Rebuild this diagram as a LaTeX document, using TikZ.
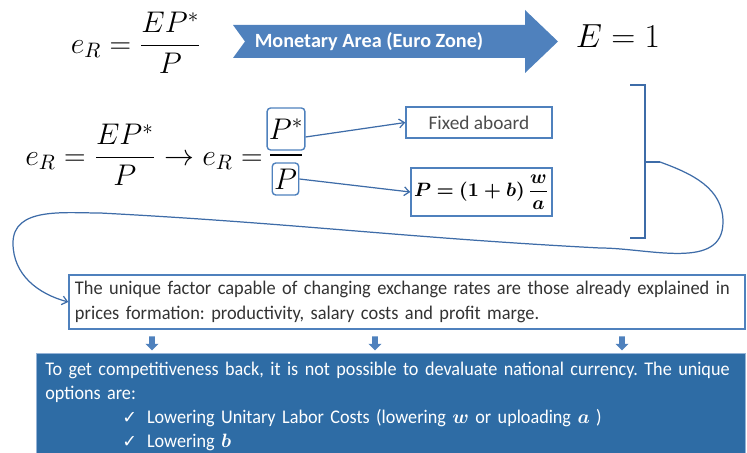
\RequirePackage{fix-cm}
\documentclass[tikz,border=0pt]{standalone}
\usepackage{amsmath, amssymb}
\usepackage{fontspec}
\usetikzlibrary{arrows.meta, positioning, shapes.arrows, calc}

\newfontfamily\calibri{Carlito}
\newfontfamily\calibrin{Carlito}[FakeStretch=0.95]
\newfontfamily\calibrio{Carlito}[FakeStretch=0.94]
\newfontfamily\checkfont{DejaVu Sans}
\definecolor{boxblue}{RGB}{79,129,189}
\definecolor{lineblue}{RGB}{62,108,168}
\definecolor{optblue}{RGB}{46,108,165}

\begin{document}
\frenchspacing
\begin{tikzpicture}[
    box/.style={draw=boxblue, line width=0.8pt, inner sep=0pt},
    mathbox/.style={draw=boxblue, rounded corners=2pt, inner sep=1pt, line width=0.8pt},
    link/.style={draw=lineblue, line width=0.7pt, -{Straight Barb[length=3pt,width=5pt]}},
    bracket/.style={draw=lineblue, line width=0.9pt},
    down/.style={single arrow, fill=boxblue, rotate=-90, minimum height=0.28cm,
                 inner sep=1.5pt, single arrow head extend=2pt},
    big/.style={font=\fontsize{17}{20}\selectfont}
]
    \useasboundingbox (0,0) rectangle (14.94,9.06);

    % Euro zone: E = 1
    \node[big] (er1) at (2.72,8.2) {$e_R = \dfrac{EP^*}{P}$};
    \fill[boxblue] (4.66,8.56) -- (10.5,8.56) -- (10.5,8.86) -- (11.16,8.23)
        -- (10.5,7.6) -- (10.5,7.9) -- (4.66,7.9) -- (4.9,8.23) -- cycle;
    \node[text=white, font=\calibri\bfseries\fontsize{11.5}{14}\selectfont] (euro) at (7.38,8.23) {Monetary Area (Euro Zone)};
    \node[font=\fontsize{19}{22}\selectfont] (eone) at (12.36,8.33) {$E = 1$};

    % second row
    \node[big] (er2) at (2.88,5.96) {$e_R = \dfrac{EP^*}{P} \to e_R =$};
    \node[big, mathbox, minimum width=0.68cm, minimum height=0.84cm] (pstar) at (5.72,6.48) {$P^*$};
    \node[big, mathbox, minimum width=0.5cm, minimum height=0.64cm] (pden) at (5.71,5.48) {$P$};
    \draw[line width=0.8pt] (5.4,5.96) -- (6.04,5.96);

    \node[box, minimum width=2.92cm, minimum height=0.62cm, text=black!70,
          font=\calibri\fontsize{11}{13}\selectfont] (fixed) at (9.58,6.61) {Fixed aboard};
    \node[box, minimum width=2.82cm, minimum height=0.96cm, font=\fontsize{11}{13}\selectfont] (pform) at (9.63,5.22)
        {$\boldsymbol{P} \boldsymbol{=} \boldsymbol{(1+b)}\,\dfrac{\boldsymbol{w}}{\boldsymbol{a}}$};
    \draw[link] ([yshift=-0.16cm]pstar.east) -- (fixed.west);
    \draw[link] (pden.east) -- (pform.west);

    % bracket
    \draw[bracket] (12.6,7.36) -- (12.9,7.36) -- (12.9,4.3) -- (12.6,4.3);
    \coordinate (brk) at (13.2,5.82);
    \draw[bracket] (12.9,5.82) -- (brk);

    \node[box, minimum width=13.52cm, minimum height=1.08cm, inner sep=0.12cm,
          text width=13.28cm, align=left, text=black!80,
          font=\calibrin\fontsize{11}{14}\selectfont] (reason) at (8.14,3.02)
        {The unique factor capable of changing exchange rates are those already explained in\\
         prices formation: productivity, salary costs and profit marge.};

    % loop back to the text box
    \coordinate (rgt) at (14.46,4.62);
    \coordinate (bot) at (12.0,4.1);
    \coordinate (top) at (2.0,4.8);
    \coordinate (lft) at (0.26,4.2);
    \draw[link] (brk) to[out=-20,in=90] (rgt) to[out=-90,in=0] (bot)
        to[out=177,in=-3] (top) to[out=180,in=90] (lft) to[out=-90,in=165] (reason.west);

    \foreach \x/\name in {3.04/dn1, 7.5/dn2, 12.44/dn3}
        \node[down] (\name) at (\x,2.22) {};

    \node[anchor=north west, fill=optblue, draw=boxblue!60, minimum width=14.18cm,
          minimum height=2.0cm, inner sep=0.18cm, text width=13.82cm, align=left,
          text=white, font={\calibrio\fontsize{11}{13.7}\selectfont\spaceskip=0.18em plus 0.05em}] (options) at (0.72,2.0)
        {To get competitiveness back, it is not possible to devaluate national currency. The unique\\
         options are:\\
         \hspace*{1.54cm}{\checkfont\fontsize{10}{12}\selectfont ✓}\hspace{0.2cm}Lowering Unitary Labor Costs (lowering $\boldsymbol{w}$ or uploading $\boldsymbol{a}$ )\\
         \hspace*{1.54cm}{\checkfont\fontsize{10}{12}\selectfont ✓}\hspace{0.2cm}Lowering $\boldsymbol{b}$};
\end{tikzpicture}
\end{document}
